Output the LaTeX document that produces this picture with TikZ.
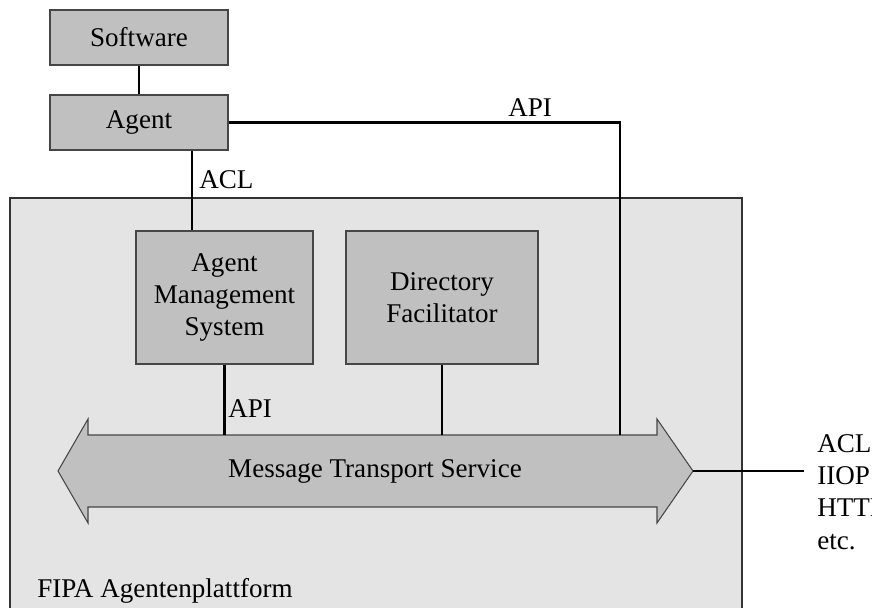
\documentclass[tikz,border=0pt]{standalone}
\usepackage{fontspec}
\setmainfont{Liberation Serif}
\definecolor{boxgray}{RGB}{192,192,192}
\definecolor{platgray}{RGB}{228,228,228}
\definecolor{rimgray}{RGB}{70,70,70}
\begin{document}
\begin{tikzpicture}[x=0.02cm, y=-0.02cm,
  every node/.style={font=\fontsize{15.4}{18.4}\selectfont},
  box/.style={draw=rimgray, fill=boxgray, line width=0.6pt, align=center, inner sep=0pt},
  link/.style={line width=1.5pt, black},
  lbl/.style={anchor=base west, inner sep=0pt}]

\useasboundingbox (0,0) rectangle (872,608) ;
\clip (0,0) rectangle (872,608) ;

\draw[fill=platgray, draw=black!80, line width=0.6pt] (10,198) rectangle (742,640) ;
\node[lbl] (plat) at (37,597) {FIPA Agentenplattform} ;

\node[box, minimum width=3.56cm, minimum height=1.1cm] (software) at (139,37.5) {Software} ;
\node[box, minimum width=3.56cm, minimum height=1.1cm] (agent) at (139,122.5) {Agent} ;
\node[box, minimum width=3.54cm, minimum height=2.66cm] (ams) at (224.5,297.5) {Agent\\Management\\System} ;
\node[box, minimum width=3.84cm, minimum height=2.66cm] (df) at (442,297.5) {Directory\\Facilitator} ;

\draw[fill=boxgray, draw=rimgray, line width=0.6pt] (58,471) -- (88,419) -- (88,435) -- (657,435) -- (657,419) -- (693,471) -- (657,523) -- (657,507) -- (88,507) -- (88,523) -- cycle ;
\coordinate (tipr) at (693,471) ;
\coordinate (shaft) at (0,435) ;
\node (mts) at (375,471) {Message Transport Service} ;

\coordinate (acl) at (192,0) ;
\coordinate (apix) at (620,0) ;
\coordinate (wire) at (804,471) ;

\draw[link] (software) -- (agent) ;
\draw[link] (agent.south -| acl) -- (ams.north -| acl) ;
\draw[link] (agent.east) -| (apix |- shaft) ;
\draw[link] (ams.south) -- (ams.south |- shaft) ;
\draw[link] (df.south) -- (df.south |- shaft) ;
\draw[link] (tipr) -- (wire) ;

\node[lbl] (acllbl) at (199,188) {ACL} ;
\node[lbl] (apitop) at (508,116) {API} ;
\node[lbl] (apilow) at (228,417) {API} ;
\node[align=left, anchor=west, inner sep=0pt] (proto) at (817,492) {ACL\\IIOP\\HTTP\\etc.} ;
\end{tikzpicture}
\end{document}
